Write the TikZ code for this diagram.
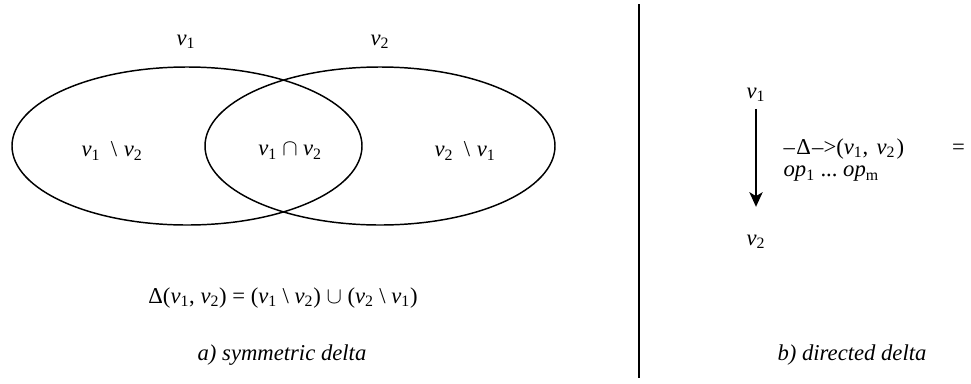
\documentclass[tikz,border=0pt]{standalone}
\usepackage{fontspec}
\setmainfont{Liberation Serif}
\usepackage{tikz}
\usetikzlibrary{positioning,arrows.meta}
\newcommand{\vx}[1]{\textit{v}\textsubscript{#1}}
\newcommand{\opx}[1]{\textit{op}\textsubscript{#1}}
\newcommand{\setdiff}{\hspace{8pt}\textbackslash\hspace{5pt}}
\tikzset{
  vennring/.style={draw=black, line width=1.1pt},
  lbl/.style={font=\fontsize{17}{17}\selectfont, inner sep=1pt},
  captext/.style={lbl, font=\fontsize{17}{17}\selectfont\itshape},
}
\begin{document}
\begin{tikzpicture}[x=0.75pt, y=-0.75pt]
  \useasboundingbox (0,0) rectangle (971,383);
  % a) symmetric delta
  \draw[vennring] (187,146) ellipse [x radius=175, y radius=79];
  \draw[vennring] (380,146) ellipse [x radius=175, y radius=79];
  \node[lbl] (top1) at (186,42) {\vx{1}};
  \node[lbl] (top2) at (380,42) {\vx{2}};
  \node[lbl] (only1) at (112,151) {\vx{1}\setdiff\vx{2}};
  \node[lbl] (both) at (290,151) {\vx{1}\hspace{4pt}$\cap$\hspace{4pt}\vx{2}};
  \node[lbl] (only2) at (465,151) {\vx{2}\setdiff\vx{1}};
  \node[lbl] (symeq) at (283,298)
    {Δ(\vx{1}, \vx{2}) = (\vx{1} \textbackslash{} \vx{2}) $\cup$ (\vx{2} \textbackslash{} \vx{1})};
  \node[captext] (capa) at (282,355) {a) symmetric delta};
  % divider
  \coordinate (divtop) at (639,4);
  \coordinate (divbot) at (639,378);
  \draw[line width=1.2pt] (divtop) -- (divbot);
  % b) directed delta
  \node[lbl] (src) at (756,95) {\vx{1}};
  \node[lbl] (dst) at (756,242) {\vx{2}};
  \draw[line width=1.1pt, -{Stealth[length=11pt, width=10pt, inset=3pt]},
    shorten <=4pt, shorten >=20pt] (src) -- (dst);
  \node[lbl, anchor=west, align=left] (dexpr) at (782,160)
    {–\kern1ptΔ\kern1pt–>(\vx{1},\kern2pt\ \vx{2}\kern1pt)\hspace{36pt}=\\ \opx{1}\ ...\ \opx{m}};
  \node[captext] (capb) at (852,355) {b) directed delta};
\end{tikzpicture}
\end{document}
